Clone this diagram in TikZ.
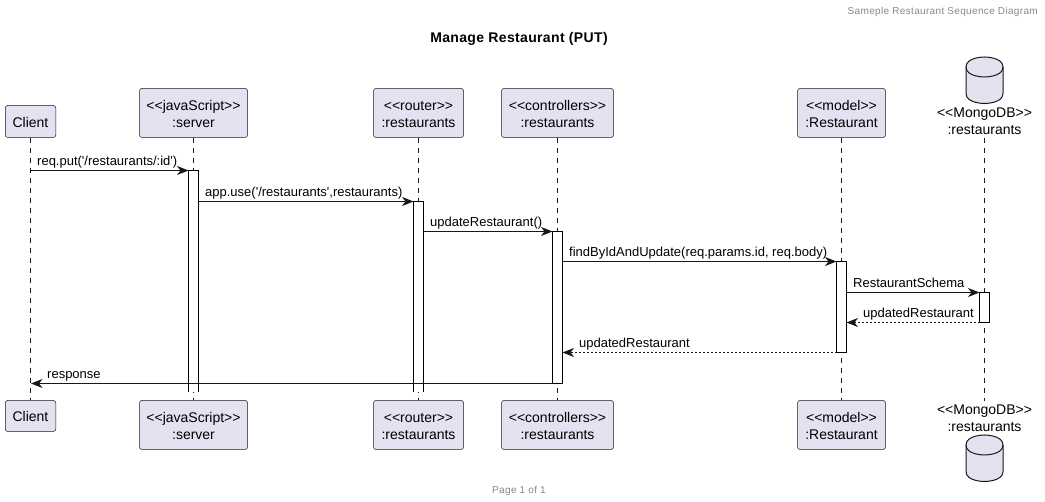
\documentclass[tikz,border=0pt]{standalone}
\usepackage{fontspec}
\usetikzlibrary{arrows.meta}
\newfontfamily\diagfont{Liberation Sans}
\newfontfamily\headfont[LetterSpace=3.4]{Liberation Sans}
\newfontfamily\titlefont[LetterSpace=2.5]{Liberation Sans}
\definecolor{partfill}{HTML}{E2E2F0}
\definecolor{partline}{HTML}{181818}
\definecolor{headgray}{HTML}{888888}

\tikzset{
partbox/.style={draw=partline, line width=0.5pt, fill=partfill, rounded corners=2.5pt, inner sep=0pt, minimum height=49pt, text height=29pt, text depth=0pt, align=center, font=\diagfont\fontsize{14}{17}\selectfont},
clientbox/.style={partbox, minimum width=50.5pt, text height=12pt},
dbtext/.style={inner sep=0pt, minimum height=34pt, minimum width=90pt, text height=28pt, text depth=0pt, align=center, font=\diagfont\fontsize{14}{17}\selectfont},
lifeline/.style={draw=partline, line width=0.5pt, dash pattern=on 5pt off 5pt},
actbar/.style={inner sep=0pt, outer sep=0pt, minimum width=10pt, fill=white},
barline/.style={draw=black, line width=1pt},
msg/.style={draw=partline, line width=1pt, -{Stealth[length=11.5pt,width=9pt,inset=3.5pt]}},
retmsg/.style={msg, dash pattern=on 2pt off 2pt},
msgtext/.style={anchor=base west, inner sep=0pt, font=\diagfont\fontsize{13}{15}\selectfont},
dbcyl/.style={draw=partline, line width=1pt, fill=partfill}
}

\begin{document}
\begin{tikzpicture}[x=1pt,y=-1pt]
\useasboundingbox[fill=white] (0,0) rectangle (1045,502);

\node[inner sep=0pt, anchor=base east, text=headgray, font=\headfont\fontsize{10}{12}\selectfont](headtext) at (1038,14.5){Sameple Restaurant Sequence Diagram};
\node[inner sep=0pt, anchor=base, font=\titlefont\bfseries\fontsize{14}{17}\selectfont](titletext) at (519,43){Manage Restaurant (PUT)};
\node[inner sep=0pt, anchor=base, text=headgray, font=\headfont\fontsize{10}{12}\selectfont](foottext) at (519,494){Page 1 of 1};

% participants, top row
\node[clientbox, minimum height=32pt](clientTop) at (30.5,121.5){Client};
\node[partbox, minimum width=108pt](serverTop) at (193.5,113){<{}<javaScript>{}>\\:server};
\node[partbox, minimum width=90pt](routerTop) at (418.5,113){<{}<router>{}>\\:restaurants};
\node[partbox, minimum width=112pt](ctrlTop) at (557.5,113){<{}<controllers>{}>\\:restaurants};
\node[partbox, minimum width=88pt](modelTop) at (841.5,113){<{}<model>{}>\\:Restaurant};
\node[dbtext](dbTop) at (984.5,121){<{}<MongoDB>{}>\\:restaurants};

% participants, bottom row
\node[clientbox, minimum height=31pt](clientBot) at (30.5,416){Client};
\node[partbox, minimum width=108pt](serverBot) at (193.5,425){<{}<javaScript>{}>\\:server};
\node[partbox, minimum width=90pt](routerBot) at (418.5,425){<{}<router>{}>\\:restaurants};
\node[partbox, minimum width=112pt](ctrlBot) at (557.5,425){<{}<controllers>{}>\\:restaurants};
\node[partbox, minimum width=88pt](modelBot) at (841.5,425){<{}<model>{}>\\:Restaurant};
\node[dbtext](dbBot) at (984.5,418){<{}<MongoDB>{}>\\:restaurants};

% database drums
\foreach \drumtop in {57,435}{
\draw[dbcyl] (966,\drumtop+10) .. controls (966,\drumtop) and (984.5,\drumtop) .. (984.5,\drumtop)
 .. controls (984.5,\drumtop) and (1003,\drumtop) .. (1003,\drumtop+10)
 -- (1003,\drumtop+36.5) .. controls (1003,\drumtop+46.5) and (984.5,\drumtop+46.5) .. (984.5,\drumtop+46.5)
 .. controls (984.5,\drumtop+46.5) and (966,\drumtop+46.5) .. (966,\drumtop+36.5) -- cycle;
\draw[dbcyl, fill=none] (966,\drumtop+10) .. controls (966,\drumtop+20) and (984.5,\drumtop+20) .. (984.5,\drumtop+20)
 .. controls (984.5,\drumtop+20) and (1003,\drumtop+20) .. (1003,\drumtop+10);
}

% lifelines
\draw[lifeline] (clientTop.south) -- (clientBot.north);
\draw[lifeline] (serverTop.south) -- (serverBot.north);
\draw[lifeline] (routerTop.south) -- (routerBot.north);
\draw[lifeline] (ctrlTop.south) -- (ctrlBot.north);
\draw[lifeline] (modelTop.south) -- (modelBot.north);
\draw[lifeline] (dbTop.south) -- (dbBot.north);

% activation bars
\node[actbar, minimum height=222pt](serverBar) at (193.5,281.5){};
\node[actbar, minimum height=191pt](routerBar) at (418.5,297){};
\node[actbar, draw=black, line width=1pt, minimum height=152pt](ctrlBar) at (557.5,307.5){};
\node[actbar, draw=black, line width=1pt, minimum height=91pt](modelBar) at (841.5,307){};
\node[actbar, draw=black, line width=1pt, minimum height=30pt](dbBar) at (984.5,307.5){};
\draw[barline] (serverBar.south west) -- (serverBar.north west) -- (serverBar.north east) -- (serverBar.south east);
\draw[barline] (routerBar.south west) -- (routerBar.north west) -- (routerBar.north east) -- (routerBar.south east);

% free ends on the client lifeline
\coordinate (reqStart) at (30.5,170.5);
\coordinate (respEnd) at (31,383.5);

\path
(reqStart) edge[msg] (serverBar.north west)
(serverBar.east |- routerBar.north) edge[msg] (routerBar.north west)
(routerBar.east |- ctrlBar.north) edge[msg] (ctrlBar.north west)
(ctrlBar.east |- modelBar.north) edge[msg] (modelBar.north west)
(modelBar.east |- dbBar.north) edge[msg] (dbBar.north west)
(dbBar.south west) edge[retmsg] (modelBar.east |- dbBar.south)
(modelBar.south west) edge[retmsg] (ctrlBar.east |- modelBar.south)
(ctrlBar.south west) edge[msg] (respEnd);

\node[msgtext](reqText) at (37,166){req.put('/restaurants/:id')};
\node[msgtext](useText) at (205,197){app.use('/restaurants',restaurants)};
\node[msgtext](updText) at (430,227){updateRestaurant()};
\node[msgtext](findText) at (569,257){findByIdAndUpdate(req.params.id, req.body)};
\node[msgtext](schemaText) at (853,287.5){RestaurantSchema};
\node[msgtext](retDbText) at (863,318){updatedRestaurant};
\node[msgtext](retModelText) at (579,348){updatedRestaurant};
\node[msgtext](respText) at (47,378.5){response};
\end{tikzpicture}
\end{document}
